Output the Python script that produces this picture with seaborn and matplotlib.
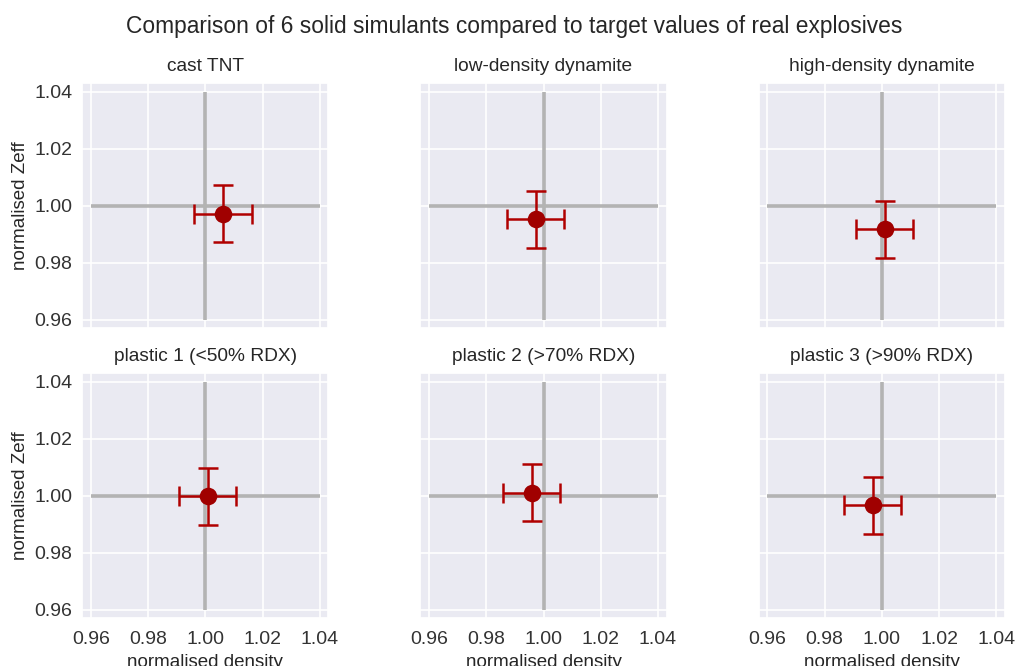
import matplotlib
matplotlib.use("Agg")
import matplotlib.pyplot as plt
import seaborn as sns
import numpy as np

# Data
names = ["cast TNT", "low-density dynamite", "high-density dynamite",
         "plastic 1 (<50% RDX)", "plastic 2 (>70% RDX)", "plastic 3 (>90% RDX)"]
density = [1.0062, 0.9973, 1.0010, 1.0008, 0.9958, 0.9968]
zeff = [0.9972, 0.9953, 0.9917, 0.9997, 1.0010, 0.9966]
density_err = [0.010, 0.010, 0.010, 0.010, 0.010, 0.010]
zeff_err = [0.010, 0.010, 0.010, 0.010, 0.010, 0.010]
ticks = [0.96, 0.98, 1.00, 1.02, 1.04]

sns.set_theme(style="darkgrid")
plt.rcParams['font.family'] = ['Liberation Sans', 'DejaVu Sans']

fig, axes = plt.subplots(2, 3, figsize=(10.15, 6.66), dpi=100, sharex=True, sharey=True)
fig.subplots_adjust(left=0.081, right=0.990, top=0.875, bottom=0.072, wspace=0.374, hspace=0.184)

for i, ax in enumerate(axes.flat):
    ax.hlines(1.0, 0.96, 1.04, color="#b3b3b3", lw=2.6, zorder=2)
    ax.vlines(1.0, 0.96, 1.04, color="#b3b3b3", lw=2.6, zorder=2)
    ax.errorbar([density[i]], [zeff[i]], xerr=[density_err[i]], yerr=[zeff_err[i]],
                fmt='none', ecolor="#b00000", elinewidth=1.8, capsize=7, capthick=1.8, zorder=3)
    sns.scatterplot(x=[density[i]], y=[zeff[i]], ax=ax, color="#a00000", s=160,
                    edgecolor="#a00000", linewidth=0, zorder=4)
    ax.set_title(names[i], fontsize=13.8, color="#262626", pad=9)
    ax.set_xlim(0.957, 1.043)
    ax.set_ylim(0.957, 1.043)
    ax.set_xticks(ticks)
    ax.set_yticks(ticks)
    ax.set_xticklabels([f"{t:.2f}" for t in ticks])
    ax.set_yticklabels([f"{t:.2f}" for t in ticks])
    ax.tick_params(labelsize=14, colors="#333333")
    ax.tick_params(axis="y", pad=1)
    ax.grid(True, color="white", lw=1.2)

for ax in axes[1]:
    ax.set_xlabel("normalised density", fontsize=13.5, color="#262626")
for ax in axes[:, 0]:
    ax.set_ylabel("normalised Zeff", fontsize=13.5, color="#262626", labelpad=4)

fig.suptitle("Comparison of 6 solid simulants compared to target values of real explosives",
             fontsize=16.4, x=0.507, y=0.978, color="#262626")

fig.savefig("out.png", dpi=100)
